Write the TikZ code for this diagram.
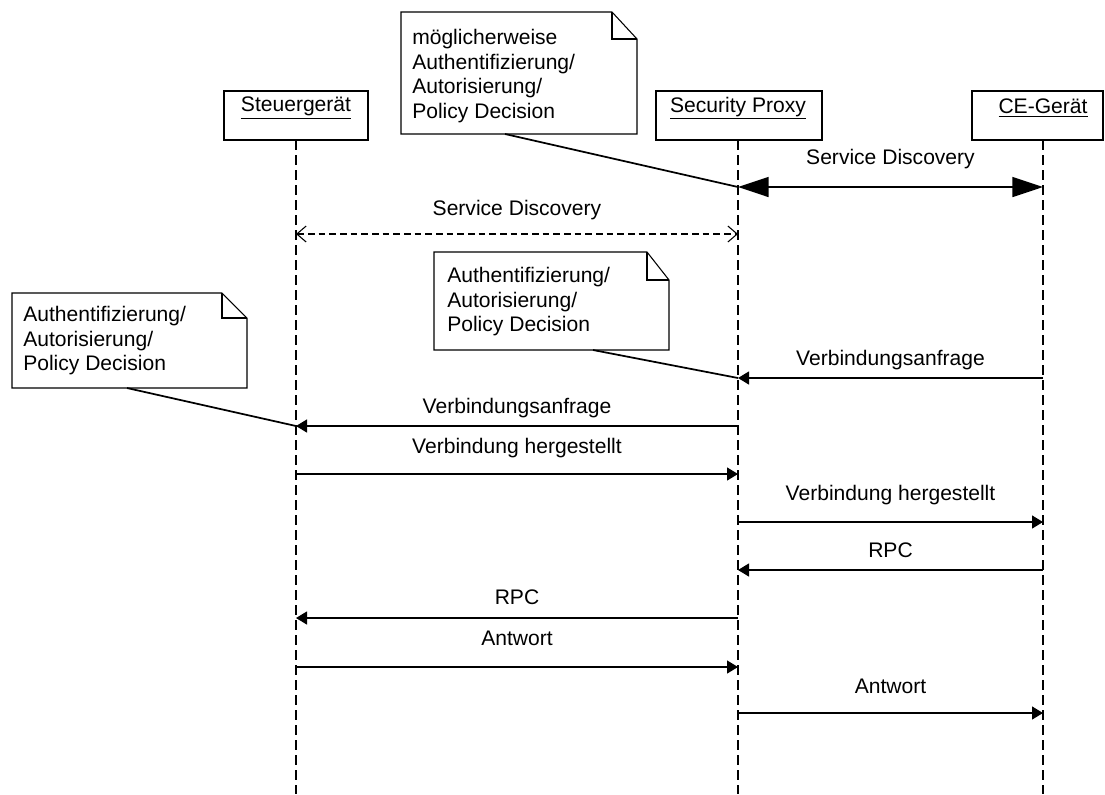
\documentclass[tikz,border=0pt]{standalone}
\usepackage{fontspec}
\setmainfont{Liberation Sans}
\usetikzlibrary{arrows.meta,calc}
\begin{document}
\begin{tikzpicture}[x=0.75pt,y=-0.75pt,
  every node/.style={font=\fontsize{15.8}{18.4}\selectfont},
  headbox/.style={draw,line width=0.8pt,inner sep=0pt},
  headtext/.style={inner sep=0pt},
  notetext/.style={inner sep=0pt,align=left,anchor=west},
  noteline/.style={draw,line width=0.8pt,line join=miter},
  notelink/.style={draw,line width=1.3pt},
  lifeline/.style={draw,line width=0.8pt,dash pattern=on 7.5pt off 3.75pt},
  msg/.style={draw,line width=1pt,-{Triangle[length=8.25pt,width=9.75pt]}},
  bigmsg/.style={draw,line width=1.2pt,{Triangle[length=23pt,width=15pt]}-{Triangle[length=23pt,width=15pt]}},
  dashmsg/.style={draw,line width=0.8pt,dash pattern=on 5pt off 3pt,
    {Straight Barb[length=7pt,width=12pt,line width=0.8pt]}-{Straight Barb[length=7pt,width=12pt,line width=0.8pt]}},
  msglabel/.style={inner sep=0pt}
]
\useasboundingbox (0,0) rectangle (1105,794);

% participant heads
\node[headbox,minimum width=144*0.75pt,minimum height=49*0.75pt] (sg) at (296,115.5) {};
\node[headbox,minimum width=166*0.75pt,minimum height=49*0.75pt] (sp) at (739,115.5) {};
\node[headbox,minimum width=131*0.75pt,minimum height=49*0.75pt] (ce) at (1037.5,115.5) {};
\node[headtext] (sgt) at (296,108) {\underline{Steuergerät}};
\node[headtext] (spt) at (738,108) {\underline{Security Proxy}};
\node[headtext] (cet) at (1043,108) {\underline{CE-Gerät}};

% lifelines
\coordinate (sgTop) at (296,140);
\coordinate (spTop) at (738,140);
\coordinate (ceTop) at (1043,140);
\coordinate (sgBot) at (296,794);
\coordinate (spBot) at (738,794);
\coordinate (ceBot) at (1043,794);
\draw[lifeline] (sgTop) -- (sgBot);
\draw[lifeline] (spTop) -- (spBot);
\draw[lifeline] (ceTop) -- (ceBot);

% message end points on the lifelines
\coordinate (sp1) at (738,187);  \coordinate (ce1) at (1043,187);
\coordinate (sg2) at (296,234);  \coordinate (sp2) at (738,234);
\coordinate (ce3) at (1043,378); \coordinate (sp3) at (738,378);
\coordinate (sp4) at (738,426);  \coordinate (sg4) at (296,426);
\coordinate (sg5) at (296,474);  \coordinate (sp5) at (738,474);
\coordinate (sp6) at (738,522);  \coordinate (ce6) at (1043,522);
\coordinate (ce7) at (1043,570); \coordinate (sp7) at (738,570);
\coordinate (sp8) at (738,618);  \coordinate (sg8) at (296,618);
\coordinate (sg9) at (296,667);  \coordinate (sp9) at (738,667);
\coordinate (sp10) at (738,713); \coordinate (ce10) at (1043,713);

% messages
\draw[bigmsg] (sp1) -- (ce1) node[msglabel,midway,yshift=28*0.75pt] {Service Discovery};
\draw[dashmsg] (sg2) -- (sp2) node[msglabel,midway,yshift=24*0.75pt] {Service Discovery};
\draw[msg] (ce3) -- (sp3) node[msglabel,midway,yshift=18*0.75pt] {Verbindungsanfrage};
\draw[msg] (sp4) -- (sg4) node[msglabel,midway,yshift=18*0.75pt] {Verbindungsanfrage};
\draw[msg] (sg5) -- (sp5) node[msglabel,midway,yshift=26*0.75pt] {Verbindung hergestellt};
\draw[msg] (sp6) -- (ce6) node[msglabel,midway,yshift=27*0.75pt] {Verbindung hergestellt};
\draw[msg] (ce7) -- (sp7) node[msglabel,midway,yshift=20*0.75pt] {RPC};
\draw[msg] (sp8) -- (sg8) node[msglabel,midway,yshift=21*0.75pt] {RPC};
\draw[msg] (sg9) -- (sp9) node[msglabel,midway,yshift=29*0.75pt] {Antwort};
\draw[msg] (sp10) -- (ce10) node[msglabel,midway,yshift=27*0.75pt] {Antwort};

% notes
\fill[white] (401,12) rectangle (637,134);
\draw[noteline] (401,12) -- (612,12) -- (637,39) -- (637,134) -- (401,134) -- cycle;
\draw[noteline] (612,12) -- (612,39) -- (637,39);
\node[notetext] (n1t) at (412,76) {möglicherweise\\Authentifizierung/\\Autorisierung/\\Policy Decision};

\fill[white] (434,252) rectangle (669,350);
\draw[noteline] (434,252) -- (647,252) -- (669,280) -- (669,350) -- (434,350) -- cycle;
\draw[noteline] (647,252) -- (647,280) -- (669,280);
\node[notetext] (n2t) at (447,302) {Authentifizierung/\\Autorisierung/\\Policy Decision};

\fill[white] (12,293) rectangle (247,388);
\draw[noteline] (12,293) -- (222,293) -- (247,318) -- (247,388) -- (12,388) -- cycle;
\draw[noteline] (222,293) -- (222,318) -- (247,318);
\node[notetext] (n3t) at (23,341) {Authentifizierung/\\Autorisierung/\\Policy Decision};

% note anchors
\coordinate (n1b) at (505,134);
\coordinate (n2b) at (593,350);
\coordinate (n3b) at (127,388);
\draw[notelink] (n1b) -- (sp1);
\draw[notelink] (n2b) -- (sp3);
\draw[notelink] (n3b) -- (sg4);
\end{tikzpicture}
\end{document}
